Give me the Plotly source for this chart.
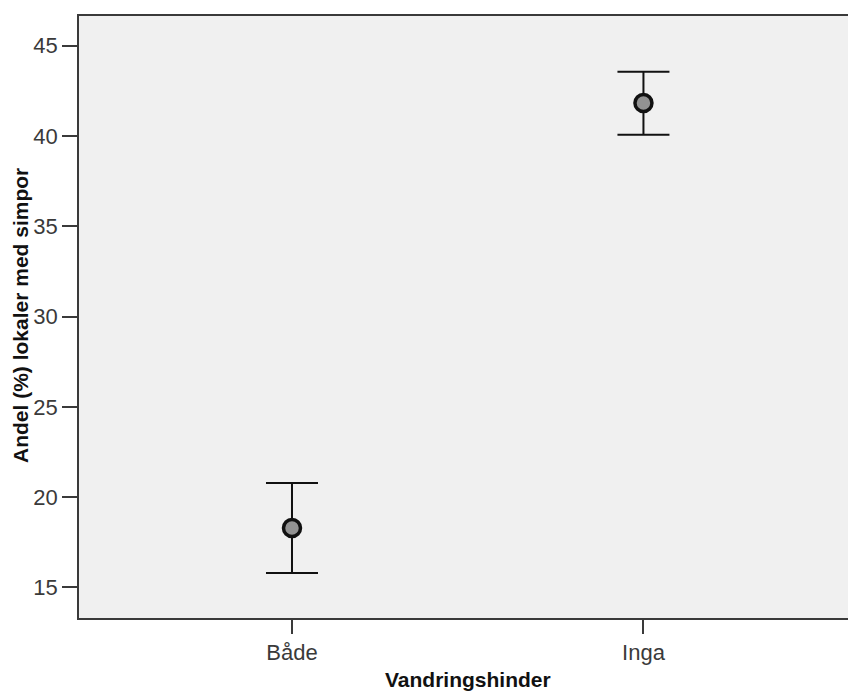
import plotly.graph_objects as go

categories = ["Både", "Inga"]
means = [18.3, 41.83]
upper = [20.78, 43.56]
lower = [15.80, 40.07]
y_ticks = [15, 20, 25, 30, 35, 40, 45]

err_plus = [u - m for u, m in zip(upper, means)]
err_minus = [m - l for m, l in zip(means, lower)]

fig = go.Figure()
fig.add_trace(go.Scatter(
    x=[0, 1],
    y=means,
    mode="markers",
    marker=dict(size=17, color="#929292", line=dict(color="#111111", width=3.5)),
    error_y=dict(type="data", symmetric=False, array=err_plus, arrayminus=err_minus,
                 color="#111111", thickness=2, width=26),
    showlegend=False,
    hoverinfo="skip",
))

font_family = "Liberation Sans, Arial, sans-serif"

fig.update_layout(
    width=848, height=691,
    margin=dict(l=79, r=0, t=16, b=73),
    paper_bgcolor="white",
    plot_bgcolor="#f0f0f0",
    font=dict(family=font_family, size=20, color="#3a3a3a"),
    xaxis=dict(
        range=[-0.606, 1.582],
        tickmode="array", tickvals=[0, 1], ticktext=categories,
        ticks="outside", ticklen=14, tickwidth=1.5, tickcolor="#3a3a3a",
        showline=True, linecolor="#3a3a3a", linewidth=1.5, mirror=True,
        showgrid=False, zeroline=False,
        tickfont=dict(size=22, color="#3a3a3a"),
        fixedrange=True,
    ),
    yaxis=dict(
        range=[13.31, 46.65],
        tickmode="array", tickvals=y_ticks, ticktext=[str(v) for v in y_ticks],
        ticks="outside", ticklen=15, tickwidth=1.5, tickcolor="#3a3a3a",
        showline=True, linecolor="#3a3a3a", linewidth=1.5, mirror=False,
        showgrid=False, zeroline=False,
        tickfont=dict(size=22, color="#3a3a3a"),
        fixedrange=True,
    ),
    annotations=[
        dict(text="<b>Vandringshinder</b>", xref="paper", yref="paper",
             x=(468 - 79) / (848 - 79), y=-(680 - 618) / (691 - 16 - 73),
             xanchor="center", yanchor="middle", showarrow=False,
             font=dict(size=21, color="#111111", family=font_family)),
        dict(text="<b>Andel (%) lokaler med simpor</b>", xref="paper", yref="paper",
             x=-(79 - 21) / (848 - 79), y=1 - (316 - 16) / (691 - 16 - 73),
             xanchor="center", yanchor="middle", showarrow=False, textangle=-90,
             font=dict(size=21, color="#111111", family=font_family)),
    ],
)

fig.write_html("out.html")
